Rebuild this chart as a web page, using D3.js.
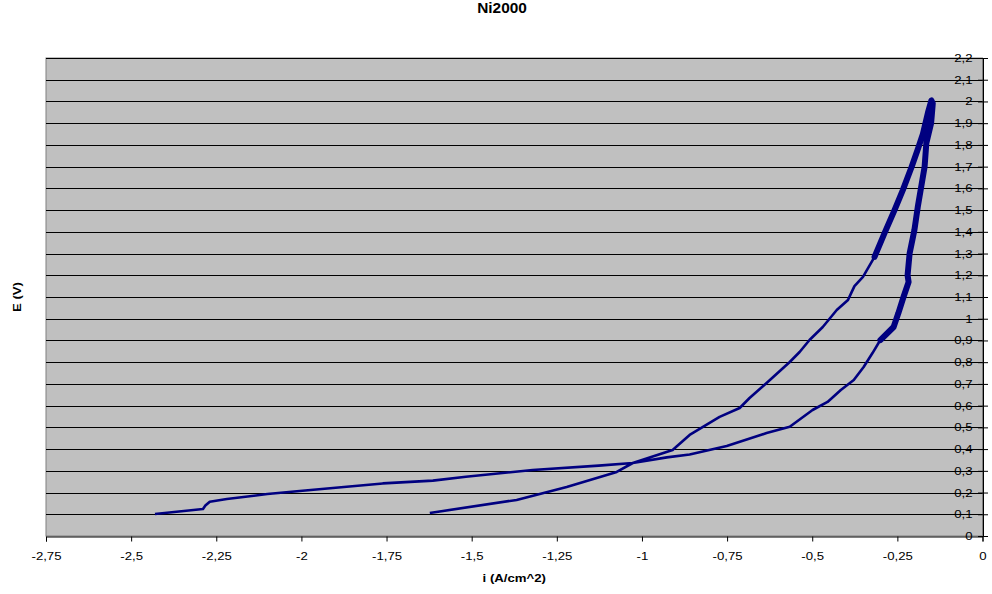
<!DOCTYPE html>
<html>
<head>
<meta charset="utf-8">
<script src="https://cdn.jsdelivr.net/npm/d3@7"></script>
<style>
  body { margin: 0; background: #fff; }
  svg { display: block; font-family: "Liberation Sans", Arial, sans-serif; }
</style>
</head>
<body>
<svg id="chart" width="992" height="594"></svg>
<script>
// scan data (forward scan, then the return scan)
var current = [-2.430, -2.289, -2.282, -2.269, -2.219, -2.100, -2.005, -1.867, -1.761, -1.614,
  -1.517, -1.321, -1.127, -1.027, -0.927, -0.860, -0.751, -0.634, -0.566, -0.499,
  -0.455, -0.416, -0.378, -0.349, -0.323, -0.300, -0.261, -0.247, -0.232, -0.217,
  -0.220, -0.214, -0.200, -0.190, -0.180, -0.170, -0.165, -0.151, -0.146, -0.150,
  -0.160, -0.175, -0.190, -0.208, -0.234, -0.258, -0.288, -0.317, -0.351, -0.376,
  -0.385, -0.395, -0.428, -0.469, -0.508, -0.537, -0.566, -0.634, -0.684, -0.713,
  -0.772, -0.860, -0.910, -1.027, -1.074, -1.221, -1.368, -1.623];
var potential = [0.101, 0.124, 0.140, 0.158, 0.170, 0.193, 0.207, 0.227, 0.242, 0.255,
  0.273, 0.304, 0.324, 0.336, 0.362, 0.375, 0.414, 0.474, 0.503, 0.580,
  0.617, 0.672, 0.718, 0.778, 0.842, 0.902, 0.962, 1.026, 1.100, 1.169,
  1.200, 1.301, 1.408, 1.515, 1.607, 1.700, 1.807, 1.899, 1.991, 2.005,
  1.950, 1.850, 1.780, 1.700, 1.592, 1.501, 1.393, 1.285, 1.193, 1.150,
  1.120, 1.086, 1.040, 0.962, 0.902, 0.847, 0.801, 0.704, 0.635, 0.589,
  0.548, 0.465, 0.396, 0.336, 0.295, 0.225, 0.166, 0.106];

var xTicks = [-2.75, -2.5, -2.25, -2, -1.75, -1.5, -1.25, -1, -0.75, -0.5, -0.25, 0];
var yTicks = d3.range(0, 23).map(function(k) { return k / 10; });

var svg = d3.select('#chart');
var plotLeft = 46, plotRight = 982.5, plotTop = 58, plotBottom = 536;
var wide = 1.2; // the original font is wider than it is tall

var x = d3.scaleLinear().domain([-2.75, 0]).range([plotLeft, plotRight]);
var y = d3.scaleLinear().domain([0, 2.2]).range([plotBottom, plotTop]);

function fmt(v) { return String(v).replace('.', ','); }

// plot area
svg.append('rect')
  .attr('x', plotLeft).attr('y', plotTop)
  .attr('width', plotRight - plotLeft).attr('height', plotBottom - plotTop)
  .attr('fill', '#c0c0c0').attr('stroke', '#808080').attr('stroke-width', 1);

// horizontal gridlines
svg.append('g').selectAll('line')
  .data(yTicks.filter(function(d) { return d > 0; }))
  .join('line')
  .attr('x1', plotLeft).attr('x2', plotRight)
  .attr('y1', function(d) { return Math.round(y(d)) + 0.5; })
  .attr('y2', function(d) { return Math.round(y(d)) + 0.5; })
  .attr('stroke', '#000').attr('stroke-width', 1);

// x axis at the bottom
var xAxis = svg.append('g')
  .attr('transform', 'translate(0,' + (plotBottom + 0.5) + ')')
  .call(d3.axisBottom(x).tickValues(xTicks).tickFormat(fmt).tickSize(5).tickPadding(11));
xAxis.select('.domain').attr('stroke', '#000');
xAxis.selectAll('text')
  .style('font-size', '11px').style('font-family', '"Liberation Sans", Arial, sans-serif')
  .attr('transform', 'scale(' + wide + ',1)');

// y axis sits at i = 0 (right edge), labels on its left
var yAxis = svg.append('g')
  .attr('transform', 'translate(' + (plotRight + 0.5) + ',0)')
  .call(d3.axisLeft(y).tickValues(yTicks).tickFormat(fmt).tickSize(5));
yAxis.select('.domain').attr('stroke', '#000');
yAxis.selectAll('.tick line').attr('x1', 5).attr('x2', -5);
yAxis.selectAll('text')
  .style('font-size', '11px').style('font-family', '"Liberation Sans", Arial, sans-serif')
  .attr('x', -10.5 / wide)
  .attr('transform', 'scale(' + wide + ',1)');

// the curve
var pts = current.map(function(c, k) { return { i: c, E: potential[k] }; });
var line = d3.line().x(function(d) { return x(d.i); }).y(function(d) { return y(d.E); });

svg.append('path')
  .datum(pts)
  .attr('d', line)
  .attr('fill', 'none').attr('stroke', '#000080')
  .attr('stroke-width', 2.6).attr('stroke-linejoin', 'round');

// noisy part near the top of the scan drawn as a wider band
svg.append('path')
  .datum(pts)
  .attr('d', line.defined(function(d) { return d.E >= 0.9 && d.i > -0.34; }))
  .attr('fill', 'none').attr('stroke', '#000080')
  .attr('stroke-width', 6).attr('stroke-linejoin', 'round').attr('stroke-linecap', 'round');

// titles
function label(px, py, rot, size, scaleX, txt) {
  svg.append('g')
    .attr('transform', 'translate(' + px + ',' + py + ') rotate(' + rot + ')')
    .append('text')
    .attr('transform', 'scale(' + scaleX + ',1)')
    .attr('text-anchor', 'middle').attr('font-weight', 'bold')
    .style('font-size', size + 'px')
    .text(txt);
}
label(502, 13, 0, 14, 1.1, 'Ni2000');
label((plotLeft + plotRight) / 2, 582, 0, 11, wide, 'i (A/cm^2)');
label(21, 297, -90, 11, wide, 'E (V)');
</script>
</body>
</html>
